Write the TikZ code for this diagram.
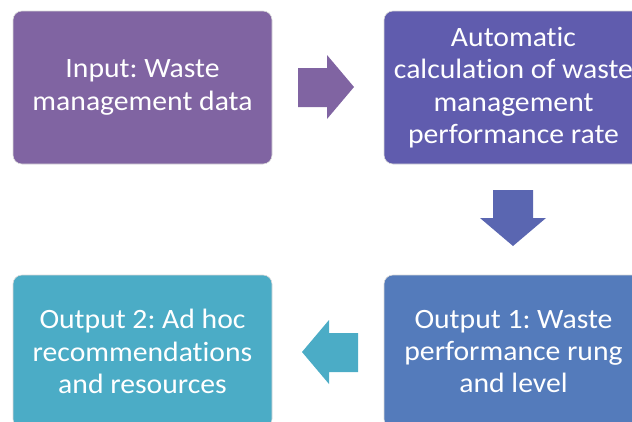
\documentclass[tikz,border=0pt]{standalone}
\usepackage{fontspec}
\setmainfont{Carlito}[FakeStretch=1.06, Ligatures=NoCommon]
\frenchspacing
\definecolor{cA}{HTML}{8064A2}
\definecolor{cB}{HTML}{605CAE}
\definecolor{cC}{HTML}{5A66B1}
\definecolor{cD}{HTML}{547BBB}
\definecolor{cE}{HTML}{4BACC6}
\tikzset{
  stepbox/.style={draw=white!85!black, line width=0.6pt, rounded corners=9pt, minimum width=259pt, minimum height=153pt,
    inner sep=0pt, text=white, align=center, font=\fontsize{28}{32.3}\selectfont}
}
\begin{document}
\begin{tikzpicture}[x=1pt,y=-1pt]
\useasboundingbox (0,0) rectangle (632,421);
\begin{scope}
\clip (0,0) rectangle (632,421);
\node[stepbox, fill=cA] (in) at (142.5,87.5) {Input: Waste\\management data};
\node[stepbox, fill=cB] (calc) at (513.5,87.5) {Automatic\\calculation of waste\\management\\performance rate};
\node[stepbox, fill=cD] (out1) at (513.5,351.5) {Output 1: Waste\\performance rung\\and level};
\node[stepbox, fill=cE] (out2) at (142.5,351.5) {Output 2: Ad hoc\\recommendations\\and resources};
\end{scope}
% right arrow (in -> calc)
\fill[cA] (298,68) -- (327,68) -- (327,55) -- (354,87) -- (327,119) -- (327,107) -- (298,107) -- cycle;
% down arrow (calc -> out1)
\fill[cC] (493,190) -- (533,190) -- (533,218) -- (546,218) -- (513,246) -- (480,218) -- (493,218) -- cycle;
% left arrow (out1 -> out2)
\fill[cE] (358,333) -- (329,333) -- (329,320) -- (302,352) -- (329,384) -- (329,372) -- (358,372) -- cycle;
\end{tikzpicture}
\end{document}
